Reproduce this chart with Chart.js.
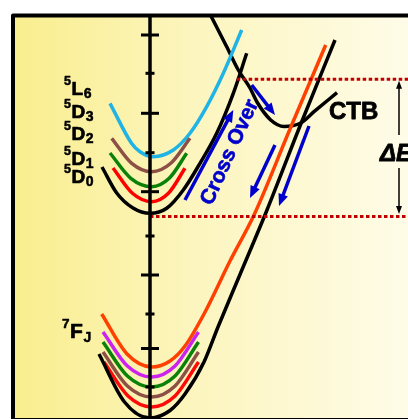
<!DOCTYPE html>
<html><head><meta charset="utf-8">
<script src="https://cdn.jsdelivr.net/npm/chart.js@4/dist/chart.umd.min.js"></script>
<style>html,body{margin:0;padding:0;background:#fff;overflow:hidden}</style>
</head><body>
<canvas id="c" width="408" height="419"></canvas>
<script>
// ---- Configuration coordinate Q (x) and energy E (y), arbitrary units ----
const Q_RANGE = [-13.5, 25.8];
const E_RANGE = [0, 40.2];

// excited-state parabolas (5D0..5L6)
const cyanQ  = [-4.0, -1.83, -1.0, 0.33, 2.33, 4.0, 5.67, 7.33, 9.17];
const cyanE  = [31.57, 27.55, 26.73, 26.23, 26.9, 28.57, 31.23, 34.57, 38.9];
const brownUpQ = [-3.83, -1.83, 0.17, 2.08, 4.0];
const brownUpE = [28.07, 25.57, 24.73, 25.57, 28.07];
const greenUpQ = [-4.0, -1.92, 0.17, 1.92, 3.67];
const greenUpE = [26.6, 24.07, 23.23, 24.07, 26.57];
const redUpQ = [-3.7, -1.76, 0.17, 1.84, 3.5];
const redUpE = [25.1, 22.57, 21.73, 22.57, 25.07];
const blackUpQ = [-4.8, -3.33, -1.7, 0, 1.67, 3.33, 5.0, 6.67, 8.33, 9.67];
const blackUpE = [25.2, 22.6, 21.1, 20.57, 21.07, 22.9, 25.57, 28.57, 32.57, 36.57];

// ground-state parabolas (7FJ)
const orangeQ = [-4.83, -2.32, 0.2, 2.0, 3.5, 5.4, 8.0, 10.4, 14.0, 17.57];
const orangeE = [10.5, 6.53, 5.2, 5.8, 7.3, 10.5, 15.8, 20.4, 29.0, 37.4];
const magentaQ = [-4.7, -2.26, 0.17, 2.5, 4.85];
const magentaE = [8.7, 5.3, 4.2, 5.3, 8.7];
const greenLoQ = [-4.7, -2.26, 0.17, 2.5, 4.85];
const greenLoE = [7.7, 4.3, 3.2, 4.3, 7.7];
const brownLoQ = [-4.7, -2.26, 0.17, 2.5, 4.85];
const brownLoE = [6.7, 3.3, 2.2, 3.3, 6.7];
const redLoQ = [-4.6, -2.2, 0.17, 2.5, 4.85];
const redLoE = [5.7, 2.3, 1.2, 2.3, 5.7];
const blackLoQ = [-5.1, -2.55, 0, 2.0, 3.5, 5.4, 6.8, 9.0, 11.7, 15.0, 18.5];
const blackLoE = [6.5, 1.7, 0.1, 0.85, 2.5, 5.7, 9.2, 14.45, 20.9, 29.3, 37.9];

// charge transfer band
const ctbQ = [6.1, 7.67, 8.83, 10.0, 10.7, 12.07, 13.4, 15.07, 16.4, 18.7];
const ctbE = [40.3, 37.23, 34.9, 33.1, 31.7, 29.9, 29.25, 29.6, 30.73, 32.63];

// dotted energy levels
const levelTopQ = [8.67, 25.8];
const levelTopE = [33.97, 33.97];
const levelBotQ = [0, 25.8];
const levelBotE = [20.25, 20.25];

// energy axis ticks
const axisQ = 0;
const tickE = [38.4, 34.57, 30.57, 26.63, 22.73, 18.3, 14.4, 10.5, 7.05, 3.2];
const tickLong = [true, false, true, false, true, false, true, false, true, false];

// blue process arrows
const arrowFromQ = [3.5, 10.17, 12.5, 15.9];
const arrowFromE = [21.9, 33.4, 27.4, 29.3];
const arrowToQ = [8.33, 12.5, 10.0, 12.9];
const arrowToE = [30.9, 30.4, 22.1, 21.3];

// ΔE arrow
const dEQ = 24.9;
const dETopE = [28.4, 33.83];
const dEBotE = [25.1, 20.5];

// level labels
const upLabels = [['5','L','6'], ['5','D','3'], ['5','D','2'], ['5','D','1'], ['5','D','0']];
const upLabelE = [32.4, 30.07, 27.9, 25.4, 23.57];
const upLabelQ = -7.85;
const loLabel = ['7','F','J'];
const loLabelQ = -8.0, loLabelE = 8.1;

const zip = (qs, es) => qs.map((q, i) => ({x: q, y: es[i]}));
const curve = (qs, es, color) => ({data: zip(qs, es), borderColor: color, borderWidth: 3.5,
  showLine: true, pointRadius: 0, cubicInterpolationMode: 'monotone', fill: false, borderCapStyle: 'butt'});
const dotted = (qs, es) => ({data: zip(qs, es), borderColor: '#C00000', borderWidth: 3,
  showLine: true, pointRadius: 0, borderDash: [3.5, 2.5], borderCapStyle: 'butt', fill: false});

const FONT = '"Liberation Sans", Arial, sans-serif';

const deco = {
  id: 'deco',
  beforeDraw(chart) {
    const {ctx, chartArea: a} = chart;
    ctx.save();
    ctx.fillStyle = '#fff';
    ctx.fillRect(0, 0, chart.width, chart.height);
    const g = ctx.createLinearGradient(a.left, 0, a.right, 0);
    g.addColorStop(0, '#F9EE8E');
    g.addColorStop(0.45, '#FCF5BE');
    g.addColorStop(1, '#FEFCE8');
    ctx.fillStyle = g;
    ctx.fillRect(a.left - 2, a.top - 1.5, a.right - a.left + 20, a.bottom - a.top + 20);
    ctx.restore();
  },
  afterDatasetsDraw(chart) {
    const {ctx, chartArea: a} = chart;
    const X = v => chart.scales.x.getPixelForValue(v);
    const Y = v => chart.scales.y.getPixelForValue(v);
    ctx.save();
    // axis
    const ax = X(axisQ);
    ctx.strokeStyle = '#000';
    ctx.lineWidth = 3.5;
    ctx.beginPath(); ctx.moveTo(ax, a.top); ctx.lineTo(ax, a.bottom); ctx.stroke();
    ctx.lineWidth = 3;
    tickE.forEach((e, i) => {
      const h = tickLong[i] ? 9 : 4.5;
      const yy = Y(e);
      ctx.beginPath(); ctx.moveTo(ax - h, yy); ctx.lineTo(ax + h, yy); ctx.stroke();
    });
    // arrows
    function arrow(x1, y1, x2, y2, w, hl, hw, color) {
      const dx = x2 - x1, dy = y2 - y1, L = Math.hypot(dx, dy), ux = dx / L, uy = dy / L;
      const bx = x2 - ux * hl, by = y2 - uy * hl;
      ctx.strokeStyle = color; ctx.lineWidth = w; ctx.lineCap = 'butt';
      ctx.beginPath(); ctx.moveTo(x1, y1); ctx.lineTo(bx + ux, by + uy); ctx.stroke();
      ctx.fillStyle = color;
      ctx.beginPath(); ctx.moveTo(x2, y2);
      ctx.lineTo(bx - uy * hw / 2, by + ux * hw / 2);
      ctx.lineTo(bx + uy * hw / 2, by - ux * hw / 2);
      ctx.closePath(); ctx.fill();
    }
    arrowFromQ.forEach((q, i) => arrow(X(q), Y(arrowFromE[i]), X(arrowToQ[i]), Y(arrowToE[i]), 3.5, 12, 10, '#0000CC'));
    arrow(X(dEQ), Y(dETopE[0]), X(dEQ), Y(dETopE[1]), 1.5, 8, 6, '#000');
    arrow(X(dEQ), Y(dEBotE[0]), X(dEQ), Y(dEBotE[1]), 1.5, 8, 6, '#000');

    // heavy text helper (fill + thin stroke for extra weight)
    function heavy(t, x, y, color, sw) {
      ctx.fillStyle = color; ctx.strokeStyle = color; ctx.lineWidth = sw; ctx.lineJoin = 'round';
      ctx.fillText(t, x, y);
      ctx.strokeText(t, x, y);
    }

    ctx.textBaseline = 'alphabetic';
    ctx.textAlign = 'left';
    ctx.font = 'bold 24px ' + FONT;
    heavy('CTB', X(17.9), Y(29.97), '#000', 0.8);
    ctx.font = 'italic bold 24px ' + FONT;
    heavy('\u0394E', X(23.0), Y(26.7) + 8.5, '#000', 0.8);

    function label(parts, q, e, ms, ss, bs, supDy, subDy) {
      const x0 = X(q), y0 = Y(e);
      ctx.font = 'bold ' + ms + 'px ' + FONT;
      ctx.textAlign = 'left';
      heavy(parts[1], x0, y0, '#000', 0.7);
      const w = ctx.measureText(parts[1]).width;
      ctx.font = 'bold ' + ss + 'px ' + FONT;
      ctx.textAlign = 'right';
      heavy(parts[0], x0 - 0.5, y0 + supDy, '#000', 0.5);
      ctx.font = 'bold ' + bs + 'px ' + FONT;
      ctx.textAlign = 'left';
      heavy(parts[2], x0 + w + 0.6, y0 + subDy, '#000', 0.5);
    }
    upLabels.forEach((p, i) => label(p, upLabelQ, upLabelE[i], 19, 12.5, 14, -10.5, 3));
    label(loLabel, loLabelQ, loLabelE, 21, 13.5, 14, -10, 3.5);

    // Cross Over
    ctx.save();
    ctx.translate(X(7.83), Y(26.73));
    ctx.rotate(-65.6 * Math.PI / 180);
    ctx.font = 'bold 21px ' + FONT;
    ctx.textAlign = 'center';
    heavy('Cross Over', 0, 7.5, '#0000CC', 0.6);
    ctx.restore();

    // frame
    ctx.strokeStyle = '#000';
    ctx.lineWidth = 4;
    ctx.strokeRect(a.left - 2, a.top - 1.5, a.right - a.left + 30, a.bottom - a.top + 2.5);
    ctx.restore();
  }
};

new Chart(document.getElementById('c'), {
  type: 'scatter',
  data: {
    datasets: [
      dotted(levelTopQ, levelTopE),
      dotted(levelBotQ, levelBotE),
      curve(blackLoQ, blackLoE, '#000000'),
      curve(redLoQ, redLoE, '#FF0A0A'),
      curve(brownLoQ, brownLoE, '#8C5046'),
      curve(greenLoQ, greenLoE, '#0A820A'),
      curve(magentaQ, magentaE, '#CC22EE'),
      curve(orangeQ, orangeE, '#FF4000'),
      curve(blackUpQ, blackUpE, '#000000'),
      curve(redUpQ, redUpE, '#FF0000'),
      curve(greenUpQ, greenUpE, '#0A820A'),
      curve(brownUpQ, brownUpE, '#8C5046'),
      curve(cyanQ, cyanE, '#1FB3E6'),
      curve(ctbQ, ctbE, '#000000')
    ]
  },
  options: {
    responsive: false,
    animation: false,
    devicePixelRatio: 1,
    layout: {padding: {left: 15, top: 17, right: 0, bottom: 0}},
    plugins: {legend: {display: false}, tooltip: {enabled: false}},
    scales: {
      x: {type: 'linear', min: Q_RANGE[0], max: Q_RANGE[1], display: false},
      y: {type: 'linear', min: E_RANGE[0], max: E_RANGE[1], display: false}
    }
  },
  plugins: [deco]
});
</script>
</body></html>
